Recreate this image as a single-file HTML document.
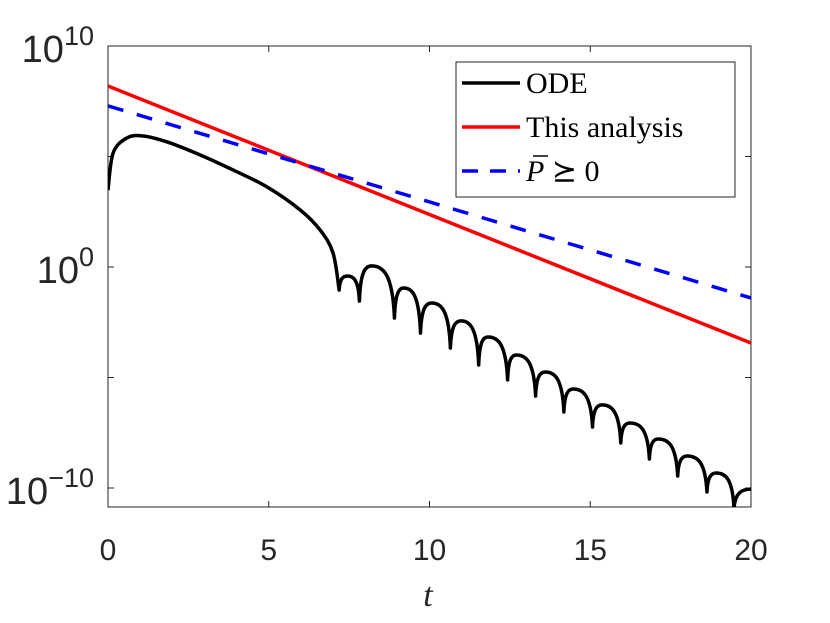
<!DOCTYPE html>
<html><head><meta charset="utf-8"><style>
body{margin:0;background:#fff}
svg{display:block}
</style></head><body>
<svg width="830" height="623" viewBox="0 0 830 623" xmlns="http://www.w3.org/2000/svg">
<g id="plot"></g>
</svg>
<script>
const xTicks=[0,5,10,15,20];
const yTickExp=[10,0,-10];
const yMinorExp=[5,-5];
const redT=[0,20];
const redLog=[8.19,-3.44];
const blueT=[0,20];
const blueLog=[7.29,-1.40];
const odeHeadT=[0,0.16,0.59,1.09,1.84,2.87,3.89,4.95,5.98,6.6,7.0,7.19];
const odeHeadLog=[3.48,5.16,5.84,5.93,5.66,5.07,4.39,3.62,2.58,1.67,0.63,-1.04];
const cuspT=[7.19,7.82,8.91,9.72,10.65,11.53,12.43,13.3,14.18,15.07,15.95,16.84,17.72,18.63,19.47];
const cuspLog=[-1.04,-1.54,-2.31,-2.99,-3.67,-4.43,-5.11,-5.84,-6.56,-7.24,-7.96,-8.69,-9.46,-10.18,-10.9];
const peakT=[7.45,8.2,9.2,10.07,10.98,11.82,12.7,13.6,14.47,15.37,16.24,17.12,18.02,18.92,20];
const peakLog=[-0.41,0.05,-0.95,-1.63,-2.44,-3.17,-3.98,-4.75,-5.52,-6.24,-7.06,-7.78,-8.55,-9.32,-10.05];

const NS='http://www.w3.org/2000/svg';
const L=108,R=751,T=46,B=507;
const X=t=>L+(t-0)/(20-0)*(R-L);
const Y=e=>267-e*22.1;
const g=document.getElementById('plot');
function mk(tag,attrs,parent){const el=document.createElementNS(NS,tag);for(const k in attrs)el.setAttribute(k,attrs[k]);(parent||g).appendChild(el);return el;}

const clip=mk('clipPath',{id:'cp'});
mk('rect',{x:L,y:T,width:R-L,height:B-T},clip);
const box=mk('rect',{x:L,y:T,width:R-L,height:B-T,fill:'none',stroke:'#262626','stroke-width':1});


xTicks.forEach(v=>{
  mk('line',{x1:X(v),x2:X(v),y1:B,y2:B-6,stroke:'#262626'});
  mk('line',{x1:X(v),x2:X(v),y1:T,y2:T+6,stroke:'#262626'});
  const tx=mk('text',{x:X(v),y:560,'text-anchor':'middle','font-family':'Liberation Sans, sans-serif','font-size':30,fill:'#262626'});
  tx.textContent=v;
  
  
});
yTickExp.concat(yMinorExp).forEach(e=>{
  mk('line',{x1:L,x2:L+6,y1:Y(e),y2:Y(e),stroke:'#262626'});
  mk('line',{x1:R,x2:R-6,y1:Y(e),y2:Y(e),stroke:'#262626'});
});
yTickExp.forEach(e=>{
  const tx=mk('text',{x:94,y:Y(e)+16,'text-anchor':'end','font-family':'Liberation Sans, sans-serif','font-size':38,fill:'#262626'});
  
  
  const a=mk('tspan',{},tx);a.textContent='10';
  const b=mk('tspan',{dy:-17,'font-size':27},tx);b.textContent=String(e).replace('-','\u2212');
});
const xt=mk('text',{x:428,y:606,'text-anchor':'middle','font-family':'Liberation Serif, serif','font-style':'italic','font-size':34,fill:'#262626'});
xt.textContent='t';



const lines=mk('g',{'clip-path':'url(#cp)'});
function poly(ts,ls){return ts.map((t,i)=>X(t)+','+Y(ls[i])).join(' ');}
const red=mk('polyline',{points:poly(redT,redLog),fill:'none',stroke:'#ff0000','stroke-width':3.5},lines);


const blue=mk('polyline',{points:poly(blueT,blueLog),fill:'none',stroke:'#0000ff','stroke-width':3.5,'stroke-dasharray':'16 14'},lines);


// ODE path: Catmull-Rom through head points
const hp=odeHeadT.map((t,i)=>[X(t),Y(odeHeadLog[i])]);
let d='M'+hp[0][0]+','+hp[0][1];
for(let i=0;i<hp.length-1;i++){
  const p0=hp[i-1]||hp[i],p1=hp[i],p2=hp[i+1],p3=hp[i+2]||hp[i+1];
  const c1=[p1[0]+(p2[0]-p0[0])/6,p1[1]+(p2[1]-p0[1])/6];
  const c2=[p2[0]-(p3[0]-p1[0])/6,p2[1]-(p3[1]-p1[1])/6];
  d+=' C'+c1[0]+','+c1[1]+' '+c2[0]+','+c2[1]+' '+p2[0]+','+p2[1];
}
for(let i=0;i<cuspT.length;i++){
  const cx=X(cuspT[i]),cy=Y(cuspLog[i]),px=X(peakT[i]),py=Y(peakLog[i]);
  d+=' C'+(cx+(px-cx)*0.08)+','+(py+(cy-py)*0.15)+' '+(cx+(px-cx)*0.5)+','+py+' '+px+','+py;
  if(i+1<cuspT.length){
    const nx=X(cuspT[i+1]),ny=Y(cuspLog[i+1]);
    d+=' C'+(px+(nx-px)*0.5)+','+py+' '+(nx-(nx-px)*0.08)+','+(py+(ny-py)*0.15)+' '+nx+','+ny;
  }
}
const ode=mk('path',{d:d,fill:'none',stroke:'#000','stroke-width':3.5,'stroke-linejoin':'round'},lines);



const lg=mk('g',{});


mk('rect',{x:456,y:62,width:279,height:135,fill:'#fff',stroke:'#262626','stroke-width':1},lg);
const ent=[['ODE','#000',null,83],['This analysis','#ff0000',null,127],['P',"#0000ff",'16 12',171]];
ent.forEach(e=>{
  const ln=mk('line',{x1:462,x2:520,y1:e[3],y2:e[3],stroke:e[1],'stroke-width':3.5},lg);
  if(e[2])ln.setAttribute('stroke-dasharray',e[2]);
  const tx=mk('text',{x:526,y:e[3]+10,'font-family':'Liberation Serif, serif','font-size':30,fill:'#000'},lg);
  
  
  if(e[0]==='P'){
    const a=mk('tspan',{'font-style':'italic'},tx);a.textContent='P';
    const b=mk('tspan',{},tx);b.textContent=' \u2ab0 0';
    mk('line',{x1:533,x2:548,y1:e[3]-15,y2:e[3]-15,stroke:'#000','stroke-width':1.5},lg);
  } else tx.textContent=e[0];
});
</script>
</body></html>
